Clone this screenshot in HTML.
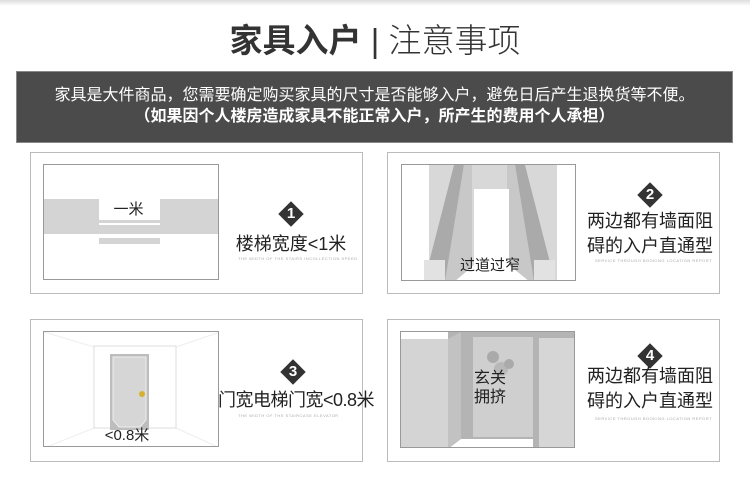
<!DOCTYPE html>
<html><head><meta charset="utf-8"><style>
body{margin:0;width:750px;height:477px;background:#fff;position:relative;overflow:hidden;font-family:"Liberation Sans","Noto Sans CJK SC",sans-serif;}
.a{position:absolute;}
.t{position:absolute;white-space:nowrap;color:#222;}
.panel{position:absolute;border:1px solid #bbb;background:#fff;box-sizing:border-box;}
.inner{position:absolute;border:1px solid #999;box-sizing:border-box;overflow:hidden;background:#fff;}
.dia{position:absolute;width:18px;height:18px;background:#333;transform:rotate(45deg);}
.num{position:absolute;width:26px;text-align:center;color:#fff;font-weight:bold;font-size:15px;line-height:24px;}
.cap{position:absolute;font-size:4px;color:#aaa;letter-spacing:0.5px;white-space:nowrap;}
</style></head><body>
<div class="a" style="left:0;top:0;width:750px;height:6px;background:linear-gradient(#ddd,#fff)"></div>
<div class="t" style="left:0;width:750px;text-align:center;top:18px;font-size:33px;line-height:46px;color:#333;"><b>家具入户</b><span style="font-weight:300"> | 注意事项</span></div>
<div class="a" style="left:16px;top:71px;width:717px;height:72px;background:#4b4b4b;border:1px solid #888;box-sizing:border-box"></div>
<div class="t" style="left:16px;width:717px;text-align:center;top:86px;font-size:16px;line-height:20px;color:#fff">家具是大件商品，您需要确定购买家具的尺寸是否能够入户，避免日后产生退换货等不便。</div>
<div class="t" style="left:16px;width:717px;text-align:center;top:107px;font-size:16px;line-height:20px;color:#fff;font-weight:bold">（如果因个人楼房造成家具不能正常入户，所产生的费用个人承担）</div>

<!-- panel 1 -->
<div class="panel" style="left:30px;top:152px;width:333px;height:142px"></div>
<div class="inner" style="left:43px;top:164px;width:176px;height:116px">
 <div class="a" style="left:0;top:34px;width:176px;height:35px;background:#d4d4d4"></div>
 <div class="a" style="left:55px;top:34px;width:61px;height:21px;background:#fff"></div>
 <div class="a" style="left:55px;top:58px;width:61px;height:2px;background:#fff"></div>
 <div class="a" style="left:55px;top:73px;width:61px;height:6px;background:#d4d4d4"></div>
</div>
<div class="t" style="left:98px;width:61px;text-align:center;top:201px;font-size:15px;line-height:18px">一米</div>
<div class="dia" style="left:282px;top:205px"></div><div class="num" style="left:278px;top:202px">1</div>
<div class="t" style="left:231px;width:120px;text-align:center;top:233px;font-size:18px;line-height:22px">楼梯宽度&lt;1米</div>
<div class="cap" style="left:238px;top:256px">THE WIDTH OF THE STAIRS INCOLLECTION SPEED</div>

<!-- panel 2 -->
<div class="panel" style="left:387px;top:152px;width:333px;height:142px"></div>
<div class="inner" style="left:401px;top:164px;width:175px;height:117px">
<svg width="175" height="117" style="position:absolute;left:0;top:0">
 <rect x="27" y="0" width="128" height="117" fill="#d8d8d8"/>
 <polygon points="52,0 62,0 43,117 22,117" fill="#aaa"/>
 <polygon points="62,0 70,0 70,117 43,117" fill="#c8c8c8"/>
 <polygon points="113,0 123,0 153,117 132,117" fill="#aaa"/>
 <polygon points="105,0 113,0 132,117 105,117" fill="#c8c8c8"/>
 <rect x="22" y="95" width="21" height="22" fill="#e2e2e2"/>
 <rect x="132" y="95" width="21" height="22" fill="#e2e2e2"/>
 <polygon points="72,24 107,24 107,100 128,117 52,117 72,100" fill="#fff"/>
</svg>
</div>
<div class="t" style="left:455px;width:70px;text-align:center;top:257px;font-size:15px;line-height:18px">过道过窄</div>
<div class="dia" style="left:641px;top:186px"></div><div class="num" style="left:637px;top:183px">2</div>
<div class="t" style="left:585px;width:130px;text-align:center;top:209px;font-size:18px;line-height:25px">两边都有墙面阻<br>碍的入户直通型</div>
<div class="cap" style="left:595px;top:258px">SERVICE THROUGH BOOKING LOCATION REPORT</div>

<!-- panel 3 -->
<div class="panel" style="left:30px;top:319px;width:333px;height:143px"></div>
<div class="inner" style="left:43px;top:331px;width:176px;height:116px">
<svg width="176" height="116" style="position:absolute;left:0;top:0">
 <line x1="0" y1="0" x2="50" y2="15" stroke="#eee"/><line x1="176" y1="0" x2="132" y2="15" stroke="#eee"/>
 <line x1="0" y1="116" x2="50" y2="96" stroke="#eee"/><line x1="176" y1="116" x2="132" y2="96" stroke="#eee"/>
 <rect x="50" y="14" width="82" height="82" fill="#fff" stroke="#ddd"/>
 <rect x="66" y="22" width="39" height="76" fill="#bdbdbd"/>
 <path d="M69,25 H102 V88 L96,95 H75 L69,88 Z" fill="#d6d6d6" stroke="#eee"/>
 <circle cx="98" cy="62" r="3" fill="#d8b030"/>
</svg>
</div>
<div class="t" style="left:92px;width:70px;text-align:center;top:427px;font-size:15px;line-height:18px">&lt;0.8米</div>
<div class="dia" style="left:284px;top:363px"></div><div class="num" style="left:280px;top:360px">3</div>
<div class="t" style="left:218px;width:150px;text-align:center;top:389px;font-size:18px;line-height:22px;letter-spacing:-0.5px">门宽电梯门宽&lt;0.8米</div>
<div class="cap" style="left:238px;top:413px">THE WIDTH OF THE STAIRCASE ELEVATOR</div>

<!-- panel 4 -->
<div class="panel" style="left:387px;top:319px;width:333px;height:143px"></div>
<div class="inner" style="left:400px;top:331px;width:175px;height:117px">
<svg width="175" height="117" style="position:absolute;left:0;top:0">
 <rect x="0" y="0" width="175" height="117" fill="#fff"/>
 <rect x="47" y="0" width="128" height="117" fill="#b4b4b4"/>
 <polygon points="0,7 47,7 47,117 0,117" fill="#d4d4d4"/>
 <polygon points="47,7 60,0 60,107 47,117" fill="#c2c2c2"/>
 <rect x="72" y="5" width="60" height="100" fill="#cfcfcf"/>
 <polygon points="60,107 132,107 132,117 47,117" fill="#fff"/>
 <rect x="138" y="6" width="37" height="111" fill="#d6d6d6"/>
 <circle cx="92" cy="25" r="6" fill="#aaa"/><circle cx="100" cy="37" r="7" fill="#b8b8b8"/><circle cx="108" cy="32" r="5" fill="#aaa"/>
</svg>
</div>
<div class="t" style="left:470px;width:40px;text-align:center;top:369px;font-size:16px;line-height:19px">玄关<br>拥挤</div>
<div class="dia" style="left:641px;top:347px"></div><div class="num" style="left:637px;top:344px">4</div>
<div class="t" style="left:585px;width:130px;text-align:center;top:364px;font-size:18px;line-height:25px">两边都有墙面阻<br>碍的入户直通型</div>
<div class="cap" style="left:595px;top:416px">SERVICE THROUGH BOOKING LOCATION REPORT</div>
</body></html>
